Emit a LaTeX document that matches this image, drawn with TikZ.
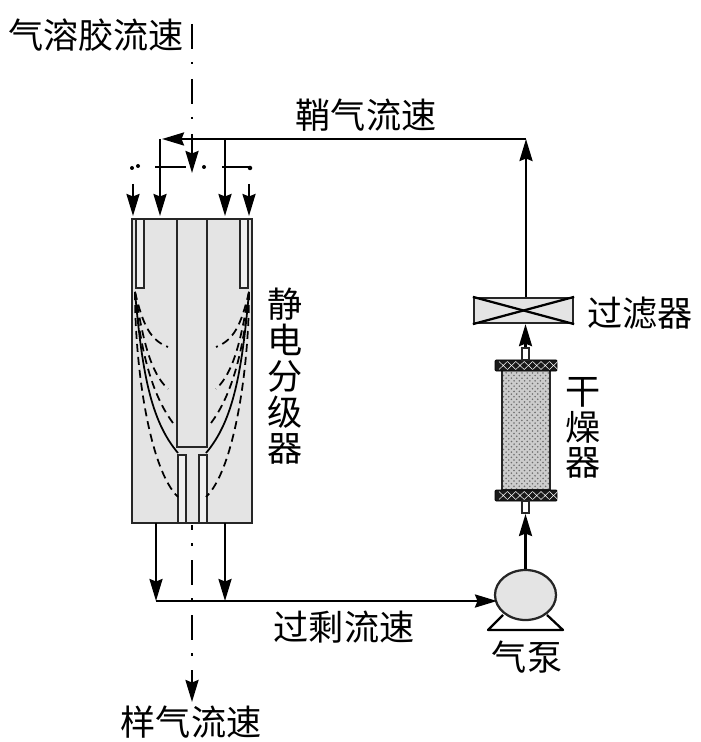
\documentclass[tikz,border=0pt]{standalone}
\usepackage{fontspec}
\newfontfamily\cjk{Noto Sans CJK SC}
\usetikzlibrary{arrows.meta,shapes.geometric,patterns}
\definecolor{grisCuerpo}{RGB}{228,228,228}
\definecolor{grisClaro}{RGB}{240,240,240}
\definecolor{grisTrama}{RGB}{110,110,110}

\begin{document}
\begin{tikzpicture}[x=0.2mm,y=-0.2mm,
  chamber/.style = {rectangle, minimum width=24mm, minimum height=60.8mm, inner sep=0pt,
                    draw=black!85, fill=grisCuerpo, line width=0.45mm},
  rod/.style     = {rectangle, minimum width=6mm, minimum height=45.6mm, inner sep=0pt,
                    draw=black!85, fill=grisCuerpo, line width=0.45mm},
  slit/.style    = {rectangle, minimum width=1.6mm, minimum height=13.8mm, inner sep=0pt,
                    draw=black!85, fill=grisClaro, line width=0.45mm},
  outlet/.style  = {rectangle, minimum width=1.6mm, minimum height=13.6mm, inner sep=0pt,
                    draw=black!85, fill=grisClaro, line width=0.45mm},
  filterbox/.style = {rectangle, minimum width=19.8mm, minimum height=5mm, inner sep=0pt,
                    draw=black!85, fill=grisCuerpo, line width=0.45mm},
  column/.style  = {rectangle, minimum width=9.6mm, minimum height=24mm, inner sep=0pt,
                    draw=black!85, line width=0.45mm,
                    preaction={fill=gray!40}, pattern=crosshatch dots, pattern color=grisTrama},
  capbar/.style  = {rectangle, rounded corners=0.2mm, minimum width=12.4mm, minimum height=2.2mm,
                    inner sep=0pt, draw=black, fill=black!90},
  nipple/.style  = {rectangle, minimum width=1.4mm, minimum height=2.4mm, inner sep=0pt,
                    draw=black!85, fill=white, line width=0.4mm},
  pumpbody/.style = {ellipse, minimum width=12.2mm, minimum height=10mm, inner sep=0pt,
                    draw=black!85, fill=grisCuerpo, line width=0.45mm},
  flow/.style    = {-{Stealth[length=4.4mm,width=2.6mm,inset=0.5mm]}, line width=0.5mm, color=black},
  axis/.style    = {line width=0.5mm, color=black, dash pattern=on 5mm off 2.6mm on 0.5mm off 2.9mm},
  pipe/.style    = {line width=0.45mm, color=black},
  traj/.style    = {line width=0.35mm, color=black, dash pattern=on 1.6mm off 1mm},
  label/.style   = {font=\fontsize{20}{20.4}\selectfont\cjk, inner sep=0pt, align=center},
]
\useasboundingbox (0,0) rectangle (700,742);
% ── Classifier ───────────────────────────────────────────────
\node[chamber] (dma)    at (192,371) {};
\node[rod]     (core)   at (192,333) {};
\node[slit]    (slitL)  at (140,253.5) {};
\node[slit]    (slitR)  at (244,253.5) {};
\node[outlet]  (outL)   at (182,489) {};
\node[outlet]  (outR)   at (203,489) {};

% ── Trajectories ─────────────────────────────────────────────
\foreach \sgn in {1,-1}{
  \begin{scope}[shift={(192,0)},xscale=\sgn]
    \draw[line width=0.35mm] (-57,292) .. controls (-50,370) and (-42,420) .. (-14,453);
    \draw[traj] (-57,292) .. controls (-49,325) and (-42,340) .. (-24,347);
    \draw[traj] (-57,292) .. controls (-49,340) and (-42,372) .. (-24,389);
    \draw[traj] (-57,292) .. controls (-52,350) and (-40,395) .. (-19,423);
    \draw[traj] (-57,292) .. controls (-57,370) and (-42,470) .. (-14,497);
  \end{scope}
}

% ── Sheath line ──────────────────────────────────────────────
\coordinate (corner)  at (526,139);
\coordinate (sheathL) at (162,139);
\coordinate (dropA)   at (160,139);
\coordinate (dropB)   at (225,139);
\coordinate (inA)     at (160,216);
\coordinate (inB)     at (225,216);
\coordinate (aeroL)   at (133,184);
\coordinate (aeroLi)  at (133,216);
\coordinate (aeroR)   at (249,184);
\coordinate (aeroRi)  at (249,216);
\coordinate (axisT)   at (192,24);
\coordinate (axisM)   at (192,173);
\coordinate (axisU)   at (192,525);
\coordinate (axisB)   at (192,702);

\node[filterbox] (filter) at (523.5,310.5) {};
\draw[pipe] (filter.north west) -- (filter.south east);
\draw[pipe] (filter.south west) -- (filter.north east);
\draw[flow] (filter.north -| corner) -- (corner);
\draw[flow] (corner) -- (sheathL);
\draw[flow] (dropA) -- (inA);
\draw[flow] (dropB) -- (inB);
\draw[flow] (aeroL) -- (aeroLi);
\draw[flow] (aeroR) -- (aeroRi);

% ── Axis ─────────────────────────────────────────────────────
\draw[axis,-{Stealth[length=4.4mm,width=2.6mm,inset=0.5mm]}] (axisT) -- (axisM);
\draw[axis,dash phase=4mm,-{Stealth[length=4.4mm,width=2.6mm,inset=0.5mm]}] (axisU) -- (axisB);

% ── Broken cross line ────────────────────────────────────────
\coordinate (stubA) at (155,167);
\coordinate (stubB) at (186,167);
\coordinate (stubC) at (222,167);
\coordinate (stubD) at (250,167);
\draw[pipe] (stubA) -- (stubB);
\draw[pipe] (stubC) -- (stubD);
\fill (132,168) circle (0.4mm) (138,166) circle (0.4mm)
      (204,167) circle (0.4mm) (250,168) circle (0.45mm);

% ── Drier ────────────────────────────────────────────────────
\node[column] (drier)  at (526,430) {};
\node[capbar] (capT)   at (526,365.5) {};
\node[capbar] (capB)   at (526,495.5) {};
\node[nipple] (nipT)   at (525.5,354) {};
\node[nipple] (nipB)   at (525.5,507) {};
\foreach \yy in {365.5,495.5}{
  \foreach \xx in {0,...,6}{
    \draw[white,line width=0.1mm] (499+8.4*\xx,\yy-4) -- (507.4+8.4*\xx,\yy+4)
                                  (499+8.4*\xx,\yy+4) -- (507.4+8.4*\xx,\yy-4);
  }
}
\draw[flow] (nipT.north) -- (filter.south -| nipT);

% ── Pump ─────────────────────────────────────────────────────
\coordinate (legL)  at (503,615);
\coordinate (footL) at (488,630);
\coordinate (footR) at (563,630);
\coordinate (legR)  at (547,615);
\draw[pipe,line join=round] (legL) -- (footL) -- (footR) -- (legR);
\node[pumpbody] (pump) at (525.5,595) {};
\draw[flow] (pump.north) -- (nipB.south);

% ── Excess line ──────────────────────────────────────────────
\coordinate (exL)  at (156,523);
\coordinate (exR)  at (225,523);
\coordinate (exLb) at (156,601);
\coordinate (exRb) at (225,601);
\coordinate (pumpIn) at (497,601);
\draw[flow] (exL) -- (exLb);
\draw[flow] (exR) -- (exRb);
\draw[flow] (exLb) -- (pumpIn);

% ── Labels ───────────────────────────────────────────────────
\node[label] (lbAero)   at (96,35)   {气溶胶流速};
\node[label] (lbSheath) at (366,115) {鞘气流速};
\node[label] (lbFilter) at (640,313) {过滤器};
\node[label] (lbDma)    at (285,376) {静\\电\\分\\级\\器};
\node[label] (lbDrier)  at (583,428) {干\\燥\\器};
\node[label] (lbExcess) at (344,627) {过剩流速};
\node[label] (lbPump)   at (527,657) {气泵};
\node[label] (lbSample) at (191,722) {样气流速};
\end{tikzpicture}
\end{document}
